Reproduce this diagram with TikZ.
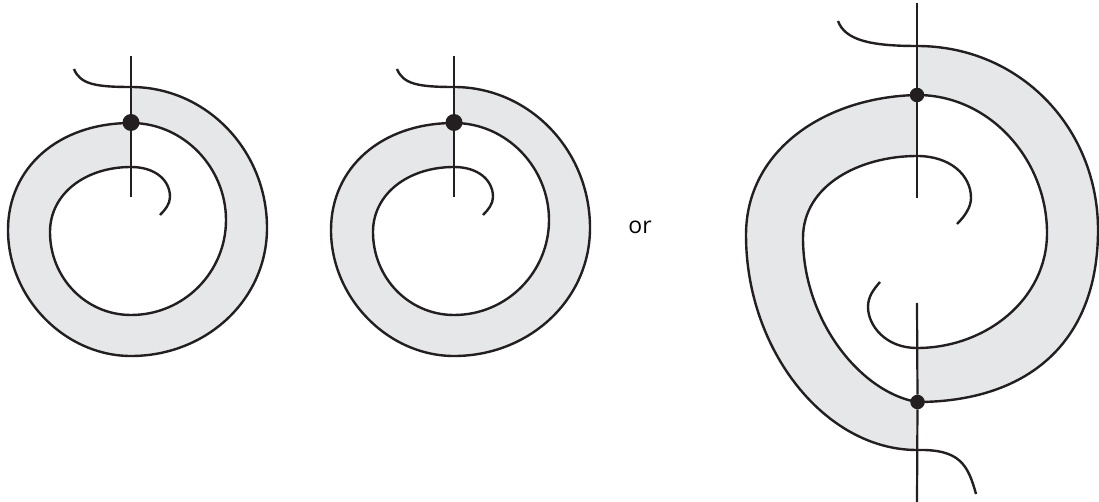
\documentclass[tikz,border=0pt]{standalone}
\usepackage{fontspec}
\setmainfont{Open Sans}
\definecolor{bandgray}{HTML}{E6E7E8}
\definecolor{inkblack}{HTML}{231F20}
\begin{document}
\begin{tikzpicture}[x=1pt,y=-1pt]
		\tikzstyle{band} =[fill=bandgray, even odd rule];
		\tikzstyle{curve} =[draw=inkblack, line width=2.4pt];
		\tikzstyle{strand} =[draw=inkblack, line width=2.2pt];
		\tikzstyle{knot} =[circle, fill=inkblack, inner sep=0pt, minimum size=17pt];
		\tikzstyle{smallknot} =[circle, fill=inkblack, inner sep=0pt, minimum size=14.5pt];
		\useasboundingbox (0,0) rectangle (1099,502);

		\foreach \dx/\n in {0/a,323/b} {
			\begin{scope}[xshift=\dx pt]
				\coordinate (top\n) at (131,56);
				\coordinate (end\n) at (131,197);
				\coordinate (cross\n) at (131,87);
				\coordinate (in\n) at (131,167);
				\fill[band] (cross\n) .. controls (206,87) and (267,150) .. (267,228) .. controls (267,300) and (206,356) .. (131,356) .. controls (65,356) and (8,298) .. (8,230) .. controls (8,168) and (58,123) .. (131,123) .. controls (184,123) and (226,168) .. (226,220) .. controls (226,272) and (184,315) .. (131,315) .. controls (86,315) and (50,278) .. (50,232) .. controls (50,194) and (85,167) .. (in\n) -- cycle;
				\draw[curve] (74,69) .. controls (80,84) and (95,87) .. (cross\n) .. controls (206,87) and (267,150) .. (267,228) .. controls (267,300) and (206,356) .. (131,356) .. controls (65,356) and (8,298) .. (8,230) .. controls (8,168) and (58,123) .. (131,123) .. controls (184,123) and (226,168) .. (226,220) .. controls (226,272) and (184,315) .. (131,315) .. controls (86,315) and (50,278) .. (50,232) .. controls (50,194) and (85,167) .. (in\n) .. controls (155,167) and (170,180) .. (170,197) .. controls (170,204) and (165,210) .. (160,215);
				\node[knot] (dot\n) at (131,122.5) {};
				\draw[strand] (top\n) -- (dot\n);
				\draw[strand] (dot\n) -- (end\n);
			\end{scope}
		}

		\coordinate (upper) at (917,46);
		\coordinate (inupper) at (917,156);
		\coordinate (lower) at (917,450);
		\coordinate (inlower) at (917,348);
		\coordinate (top) at (917,3);
		\coordinate (mid) at (917,198);
		\coordinate (low) at (917,303);
		\coordinate (bottom) at (917,502);
		\fill[band] (upper) .. controls (1020,46) and (1098,128) .. (1098,230) .. controls (1098,345) and (1025,402) .. (917,402) -- (inlower) .. controls (985,348) and (1047,300) .. (1047,233) .. controls (1047,160) and (990,95) .. (917,95) -- cycle;
		\fill[band] (917,95) .. controls (825,97) and (746,150) .. (746,235) .. controls (746,350) and (825,450) .. (lower) -- (917,402) .. controls (860,392) and (803,320) .. (803,238) .. controls (803,185) and (860,156) .. (inupper) -- cycle;
		\draw[curve] (838,21) .. controls (845,40) and (870,46) .. (upper) .. controls (1020,46) and (1098,128) .. (1098,230) .. controls (1098,345) and (1025,402) .. (917,402);
		\draw[curve] (917,95) .. controls (990,95) and (1047,160) .. (1047,233) .. controls (1047,300) and (985,348) .. (inlower) .. controls (885,348) and (868,325) .. (868,307) .. controls (868,297) and (873,290) .. (880,282);
		\draw[curve] (917,95) .. controls (825,97) and (746,150) .. (746,235) .. controls (746,350) and (825,450) .. (lower) .. controls (960,449) and (968,465) .. (976,494);
		\draw[curve] (917,402) .. controls (860,392) and (803,320) .. (803,238) .. controls (803,185) and (860,156) .. (inupper) .. controls (950,156) and (971,175) .. (971,198) .. controls (971,207) and (965,216) .. (957,224);
		\node[smallknot] (dotup) at (917,95) {};
		\node[smallknot] (dotdown) at (917.5,402) {};
		\draw[strand] (top) -- (dotup);
		\draw[strand] (dotup) -- (mid);
		\draw[strand] (low) -- (dotdown);
		\draw[strand] (dotdown) -- (bottom);
		\node[font=\fontsize{23}{23}\selectfont] (ortext) at (640,227) {or};
	\end{tikzpicture}
\end{document}
